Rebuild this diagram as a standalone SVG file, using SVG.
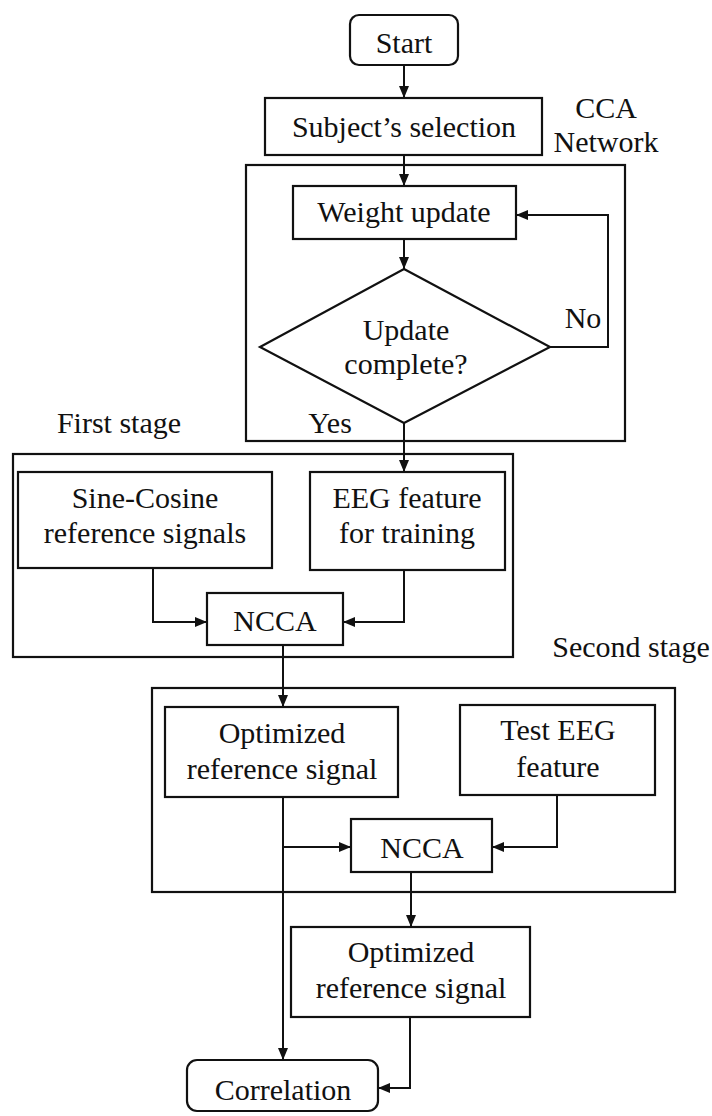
<svg xmlns="http://www.w3.org/2000/svg" width="712" height="1116" viewBox="0 0 712 1116">
  <style>
    .box { fill: #ffffff; stroke: #111111; stroke-width: 2.2; }
    .frame { fill: none; stroke: #111111; stroke-width: 2.2; }
    .wire { fill: none; stroke: #111111; stroke-width: 2; }
    text { font-family: "Liberation Serif", "Times New Roman", serif; font-size: 30px; fill: #111111; text-anchor: middle; }
  </style>
  <defs>
    <marker id="arrow" markerWidth="12" markerHeight="10" refX="12" refY="5" orient="auto" markerUnits="userSpaceOnUse">
      <path d="M0,0 L12,5 L0,10 Z" fill="#111111"/>
    </marker>
  </defs>
  <rect width="712" height="1116" fill="#ffffff"/>

  <!-- stage frames -->
  <g id="cca-network">
    <rect class="frame" x="246" y="165" width="379" height="276"/>
    <text x="606" y="118">CCA</text>
    <text x="606" y="152">Network</text>
  </g>
  <g id="first-stage">
    <rect class="frame" x="13" y="454" width="500" height="203"/>
    <text x="119" y="433">First stage</text>
  </g>
  <g id="second-stage">
    <rect class="frame" x="152" y="688" width="523" height="204"/>
    <text x="631" y="657">Second stage</text>
  </g>

  <!-- connectors -->
  <g id="connectors">
    <path class="wire" d="M404,65 V98" marker-end="url(#arrow)"/>
    <path class="wire" d="M404,155 V186" marker-end="url(#arrow)"/>
    <path class="wire" d="M404,239 V269" marker-end="url(#arrow)"/>
    <path class="wire" d="M550,347 H608 V215 H516" marker-end="url(#arrow)"/>
    <path class="wire" d="M404,423 V472" marker-end="url(#arrow)"/>
    <path class="wire" d="M153,568 V622 H207" marker-end="url(#arrow)"/>
    <path class="wire" d="M404,570 V622 H343" marker-end="url(#arrow)"/>
    <path class="wire" d="M283,645 V707" marker-end="url(#arrow)"/>
    <path class="wire" d="M283,797 V1060" marker-end="url(#arrow)"/>
    <path class="wire" d="M283,847 H351" marker-end="url(#arrow)"/>
    <path class="wire" d="M557,795 V847 H492" marker-end="url(#arrow)"/>
    <path class="wire" d="M411,872 V927" marker-end="url(#arrow)"/>
    <path class="wire" d="M410,1017 V1088 H378" marker-end="url(#arrow)"/>
    <text x="583" y="328">No</text>
    <text x="330" y="433">Yes</text>
  </g>

  <!-- nodes -->
  <g id="start">
    <rect class="box" x="350" y="15" width="108" height="50" rx="9"/>
    <text x="404" y="53">Start</text>
  </g>
  <g id="subject-selection">
    <rect class="box" x="265" y="98" width="277" height="57"/>
    <text x="404" y="137">Subject’s selection</text>
  </g>
  <g id="weight-update">
    <rect class="box" x="293" y="186" width="223" height="53"/>
    <text x="404" y="222">Weight update</text>
  </g>
  <g id="update-complete">
    <polygon class="box" points="404,269 550,347 404,423 260,347"/>
    <text x="406" y="340">Update</text>
    <text x="406" y="374">complete?</text>
  </g>
  <g id="sine-cosine">
    <rect class="box" x="18" y="472" width="254" height="96"/>
    <text x="145" y="508">Sine-Cosine</text>
    <text x="145" y="543">reference signals</text>
  </g>
  <g id="eeg-training">
    <rect class="box" x="310" y="472" width="195" height="98"/>
    <text x="407" y="508">EEG feature</text>
    <text x="407" y="543">for training</text>
  </g>
  <g id="ncca-1">
    <rect class="box" x="207" y="593" width="136" height="52"/>
    <text x="275" y="631">NCCA</text>
  </g>
  <g id="optimized-1">
    <rect class="box" x="165" y="707" width="233" height="90"/>
    <text x="282" y="743">Optimized</text>
    <text x="282" y="779">reference signal</text>
  </g>
  <g id="test-eeg">
    <rect class="box" x="460" y="705" width="195" height="90"/>
    <text x="558" y="740">Test EEG</text>
    <text x="558" y="777">feature</text>
  </g>
  <g id="ncca-2">
    <rect class="box" x="351" y="819" width="141" height="53"/>
    <text x="422" y="858">NCCA</text>
  </g>
  <g id="optimized-2">
    <rect class="box" x="291" y="927" width="239" height="90"/>
    <text x="411" y="962">Optimized</text>
    <text x="411" y="998">reference signal</text>
  </g>
  <g id="correlation">
    <rect class="box" x="187" y="1060" width="191" height="51" rx="10"/>
    <text x="283" y="1100">Correlation</text>
  </g>
</svg>
